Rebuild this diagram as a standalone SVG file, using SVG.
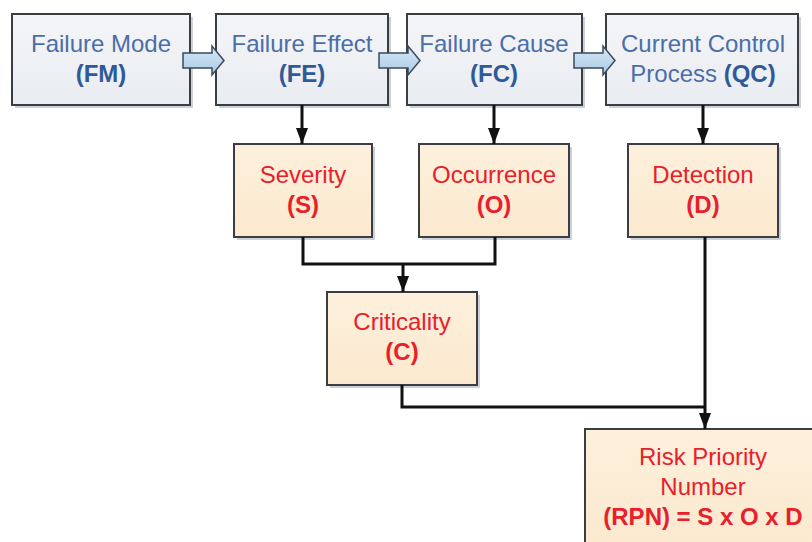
<svg xmlns="http://www.w3.org/2000/svg" width="812" height="542" viewBox="0 0 812 542">
<defs>
<linearGradient id="gTop" x1="0" y1="0" x2="0" y2="1">
<stop offset="0" stop-color="#f4f5f8"/><stop offset="1" stop-color="#e9ecf1"/>
</linearGradient>
<linearGradient id="gBot" x1="0" y1="0" x2="0" y2="1">
<stop offset="0" stop-color="#fdf0dc"/><stop offset="1" stop-color="#fbe9cf"/>
</linearGradient>
<linearGradient id="gArr" x1="0" y1="0" x2="0" y2="1">
<stop offset="0" stop-color="#d6e8f6"/><stop offset="1" stop-color="#a9cbe6"/>
</linearGradient>
<marker id="ah" viewBox="0 0 16 12" refX="16" refY="6" markerWidth="16" markerHeight="12" markerUnits="userSpaceOnUse" orient="auto">
<path d="M0,0 L16,6 L0,12 Z" fill="#111"/>
</marker>
</defs>
<style>
.shadow{fill:#b8bcc4;opacity:0.7}
.top{fill:url(#gTop);stroke:#3a3d42;stroke-width:2}
.bot{fill:url(#gBot);stroke:#3a3d42;stroke-width:2}
.blk{fill:url(#gArr);stroke:#3a4a5a;stroke-width:1.5}
text{font-family:"Liberation Sans",Arial,sans-serif;font-size:24px;text-anchor:middle}
.b{fill:#4a6ea8}
.bb{fill:#2f5a98;font-weight:bold}
.r{fill:#e8202c}
.rb{fill:#e8202c;font-weight:bold}
.ln{fill:none;stroke:#111;stroke-width:3}
</style>
<rect width="812" height="542" fill="#ffffff"/>

<g id="FM">
<rect class="shadow" x="15" y="17" width="178" height="91"/>
<rect class="top" x="12" y="14" width="178" height="91"/>
<text class="b" x="101" y="52">Failure Mode</text>
<text class="bb" x="101" y="82">(FM)</text>
</g>
<g id="FE">
<rect class="shadow" x="219" y="17" width="172" height="91"/>
<rect class="top" x="216" y="14" width="172" height="91"/>
<text class="b" x="302" y="52">Failure Effect</text>
<text class="bb" x="302" y="82">(FE)</text>
</g>
<g id="FC">
<rect class="shadow" x="410" y="17" width="175" height="91"/>
<rect class="top" x="407" y="14" width="175" height="91"/>
<text class="b" x="494" y="52">Failure Cause</text>
<text class="bb" x="494" y="82">(FC)</text>
</g>
<g id="QC">
<rect class="shadow" x="609" y="17" width="192" height="91"/>
<rect class="top" x="606" y="14" width="192" height="91"/>
<text class="b" x="703" y="52">Current Control</text>
<text x="703" y="82"><tspan class="b">Process </tspan><tspan class="bb">(QC)</tspan></text>
</g>

<g id="S">
<rect class="shadow" x="237" y="147" width="138" height="93"/>
<rect class="bot" x="234" y="144" width="138" height="93"/>
<text class="r" x="303" y="183">Severity</text>
<text class="rb" x="303" y="213">(S)</text>
</g>
<g id="O">
<rect class="shadow" x="422" y="147" width="150" height="93"/>
<rect class="bot" x="419" y="144" width="150" height="93"/>
<text class="r" x="494" y="183">Occurrence</text>
<text class="rb" x="494" y="213">(O)</text>
</g>
<g id="D">
<rect class="shadow" x="631" y="147" width="150" height="93"/>
<rect class="bot" x="628" y="144" width="150" height="93"/>
<text class="r" x="703" y="183">Detection</text>
<text class="rb" x="703" y="213">(D)</text>
</g>
<g id="C">
<rect class="shadow" x="330" y="295" width="150" height="93"/>
<rect class="bot" x="327" y="292" width="150" height="93"/>
<text class="r" x="402" y="330">Criticality</text>
<text class="rb" x="402" y="360">(C)</text>
</g>
<g id="RPN">
<rect class="shadow" x="588" y="432" width="236" height="120"/>
<rect class="bot" x="585" y="429" width="236" height="120"/>
<text class="r" x="703" y="465">Risk Priority</text>
<text class="r" x="703" y="495">Number</text>
<text class="rb" x="703" y="525">(RPN) = S x O x D</text>
</g>

<g id="connectors">
<path class="blk" d="M183,53 L212,53 L212,46 L224,60.5 L212,75 L212,68 L183,68 Z"/>
<path class="blk" d="M379,53 L408,53 L408,46 L420,60.5 L408,75 L408,68 L379,68 Z"/>
<path class="blk" d="M574,53 L603,53 L603,46 L615,60.5 L603,75 L603,68 L574,68 Z"/>
<line class="ln" x1="302" y1="105" x2="302" y2="144" marker-end="url(#ah)"/>
<line class="ln" x1="494" y1="105" x2="494" y2="144" marker-end="url(#ah)"/>
<line class="ln" x1="703" y1="105" x2="703" y2="144" marker-end="url(#ah)"/>
<path class="ln" d="M303,237 L303,264 L495,264 L495,237"/>
<line class="ln" x1="403" y1="264" x2="403" y2="292" marker-end="url(#ah)"/>
<path class="ln" d="M402,385 L402,407 L705,407"/>
<line class="ln" x1="705" y1="237" x2="705" y2="429" marker-end="url(#ah)"/>
</g>
</svg>
